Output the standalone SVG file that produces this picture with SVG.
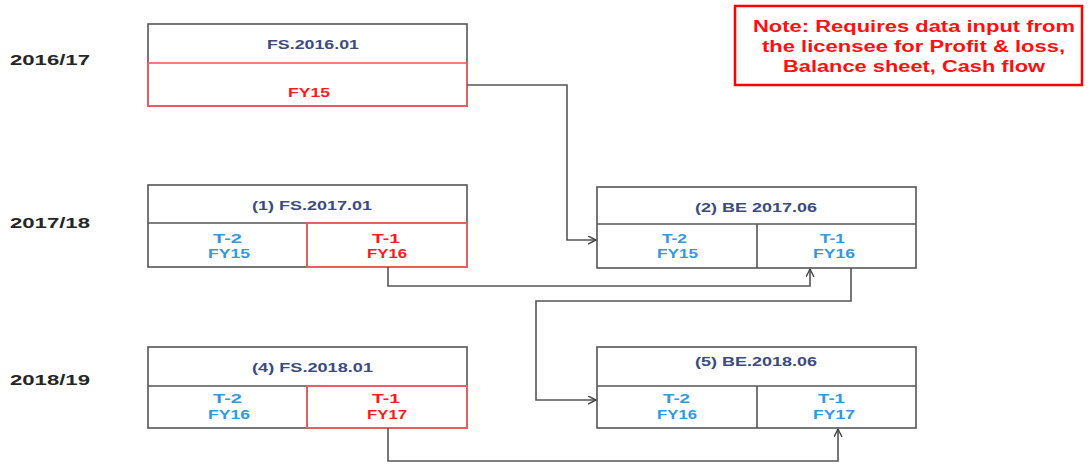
<svg xmlns="http://www.w3.org/2000/svg" width="1089" height="464" viewBox="0 0 1089 464">
<defs>
<style>
.bg{fill:#ffffff}
.box{fill:#ffffff;stroke:#555555;stroke-width:1.6}
.red{fill:none;stroke:#ff5a5a;stroke-width:1.6}
.div{stroke:#555555;stroke-width:1.6}
.yr{font-family:"Liberation Sans",Arial,sans-serif;font-weight:bold;font-size:15px;fill:#262626}
.ttl{font-family:"Liberation Sans",Arial,sans-serif;font-weight:bold;font-size:12.5px;fill:#3b4b7d;text-anchor:middle}
.bl{font-family:"Liberation Sans",Arial,sans-serif;font-weight:bold;font-size:12.5px;fill:#3399dd;text-anchor:middle}
.rd{font-family:"Liberation Sans",Arial,sans-serif;font-weight:bold;font-size:12.5px;fill:#ff1a1a;text-anchor:middle}
.note{font-family:"Liberation Sans",Arial,sans-serif;font-weight:bold;font-size:16px;fill:#ff1010;text-anchor:middle}
.conn{fill:none;stroke:#555555;stroke-width:1.6}
</style>
<marker id="arr" markerWidth="10" markerHeight="10" refX="8" refY="4" orient="auto" markerUnits="userSpaceOnUse">
<path d="M0,0 L8,4 L0,8" fill="none" stroke="#444444" stroke-width="1.4"/>
</marker>
</defs>
<rect class="bg" x="0" y="0" width="1089" height="464"/>

<g id="years">
<text class="yr" x="10" y="65" textLength="80" lengthAdjust="spacingAndGlyphs">2016/17</text>
<text class="yr" x="10" y="227.5" textLength="80" lengthAdjust="spacingAndGlyphs">2017/18</text>
<text class="yr" x="10" y="384.5" textLength="80" lengthAdjust="spacingAndGlyphs">2018/19</text>
</g>

<g id="note">
<rect x="735" y="6" width="347" height="79" fill="#ffffff" stroke="#ff0000" stroke-width="2.5"/>
<text class="note" x="914" y="32" textLength="322" lengthAdjust="spacingAndGlyphs">Note: Requires data input from</text>
<text class="note" x="913.5" y="52" textLength="303" lengthAdjust="spacingAndGlyphs">the licensee for Profit &amp; loss,</text>
<text class="note" x="914" y="72" textLength="262" lengthAdjust="spacingAndGlyphs">Balance sheet, Cash flow</text>
</g>

<g id="fs2016">
<rect class="box" x="148" y="24" width="319" height="82"/>
<rect class="red" x="148" y="63" width="319" height="43"/>
<text class="ttl" x="313" y="49" textLength="92" lengthAdjust="spacingAndGlyphs">FS.2016.01</text>
<text class="rd" x="309" y="97" textLength="42" lengthAdjust="spacingAndGlyphs">FY15</text>
</g>

<g id="fs2017">
<rect class="box" x="148" y="185" width="319" height="82"/>
<line class="div" x1="148" y1="223" x2="467" y2="223"/>
<line class="div" x1="307" y1="223" x2="307" y2="267"/>
<rect class="red" x="307" y="223" width="160" height="44"/>
<text class="ttl" x="312" y="209.5" textLength="120" lengthAdjust="spacingAndGlyphs">(1) FS.2017.01</text>
<text class="bl" x="227.5" y="242.5" textLength="29" lengthAdjust="spacingAndGlyphs">T-2</text>
<text class="bl" x="229" y="257.5" textLength="42" lengthAdjust="spacingAndGlyphs">FY15</text>
<text class="rd" x="386" y="242.5" textLength="28" lengthAdjust="spacingAndGlyphs">T-1</text>
<text class="rd" x="387" y="257.5" textLength="40" lengthAdjust="spacingAndGlyphs">FY16</text>
</g>

<g id="be2017">
<rect class="box" x="597" y="187" width="319" height="81"/>
<line class="div" x1="597" y1="224" x2="916" y2="224"/>
<line class="div" x1="757" y1="224" x2="757" y2="268"/>
<text class="ttl" x="756" y="211.5" textLength="122" lengthAdjust="spacingAndGlyphs">(2) BE 2017.06</text>
<text class="bl" x="674.5" y="243" textLength="25" lengthAdjust="spacingAndGlyphs">T-2</text>
<text class="bl" x="677.5" y="258" textLength="41" lengthAdjust="spacingAndGlyphs">FY15</text>
<text class="bl" x="832.5" y="243" textLength="25" lengthAdjust="spacingAndGlyphs">T-1</text>
<text class="bl" x="834" y="258" textLength="42" lengthAdjust="spacingAndGlyphs">FY16</text>
</g>

<g id="fs2018">
<rect class="box" x="148" y="347" width="319" height="81"/>
<line class="div" x1="148" y1="386" x2="467" y2="386"/>
<line class="div" x1="307" y1="386" x2="307" y2="428"/>
<rect class="red" x="307" y="386" width="160" height="42"/>
<text class="ttl" x="312.5" y="371.5" textLength="121" lengthAdjust="spacingAndGlyphs">(4) FS.2018.01</text>
<text class="bl" x="227.5" y="402.5" textLength="29" lengthAdjust="spacingAndGlyphs">T-2</text>
<text class="bl" x="229" y="419" textLength="42" lengthAdjust="spacingAndGlyphs">FY16</text>
<text class="rd" x="386" y="402.5" textLength="28" lengthAdjust="spacingAndGlyphs">T-1</text>
<text class="rd" x="387" y="419" textLength="40" lengthAdjust="spacingAndGlyphs">FY17</text>
</g>

<g id="be2018">
<rect class="box" x="597" y="347" width="319" height="81"/>
<line class="div" x1="597" y1="386" x2="916" y2="386"/>
<line class="div" x1="757" y1="386" x2="757" y2="428"/>
<text class="ttl" x="756" y="366" textLength="122" lengthAdjust="spacingAndGlyphs">(5) BE.2018.06</text>
<text class="bl" x="676.5" y="403" textLength="27" lengthAdjust="spacingAndGlyphs">T-2</text>
<text class="bl" x="677" y="419" textLength="40" lengthAdjust="spacingAndGlyphs">FY16</text>
<text class="bl" x="831.5" y="403" textLength="27" lengthAdjust="spacingAndGlyphs">T-1</text>
<text class="bl" x="834" y="419" textLength="42" lengthAdjust="spacingAndGlyphs">FY17</text>
</g>

<g id="connectors">
<polyline class="conn" points="467,85 567,85 567,240 596,240" marker-end="url(#arr)"/>
<polyline class="conn" points="388,267 388,286 810,286 810,269" marker-end="url(#arr)"/>
<polyline class="conn" points="851,268 851,301 536,301 536,400 596,400" marker-end="url(#arr)"/>
<polyline class="conn" points="388,428 388,461 838,461 838,429" marker-end="url(#arr)"/>
</g>
</svg>
